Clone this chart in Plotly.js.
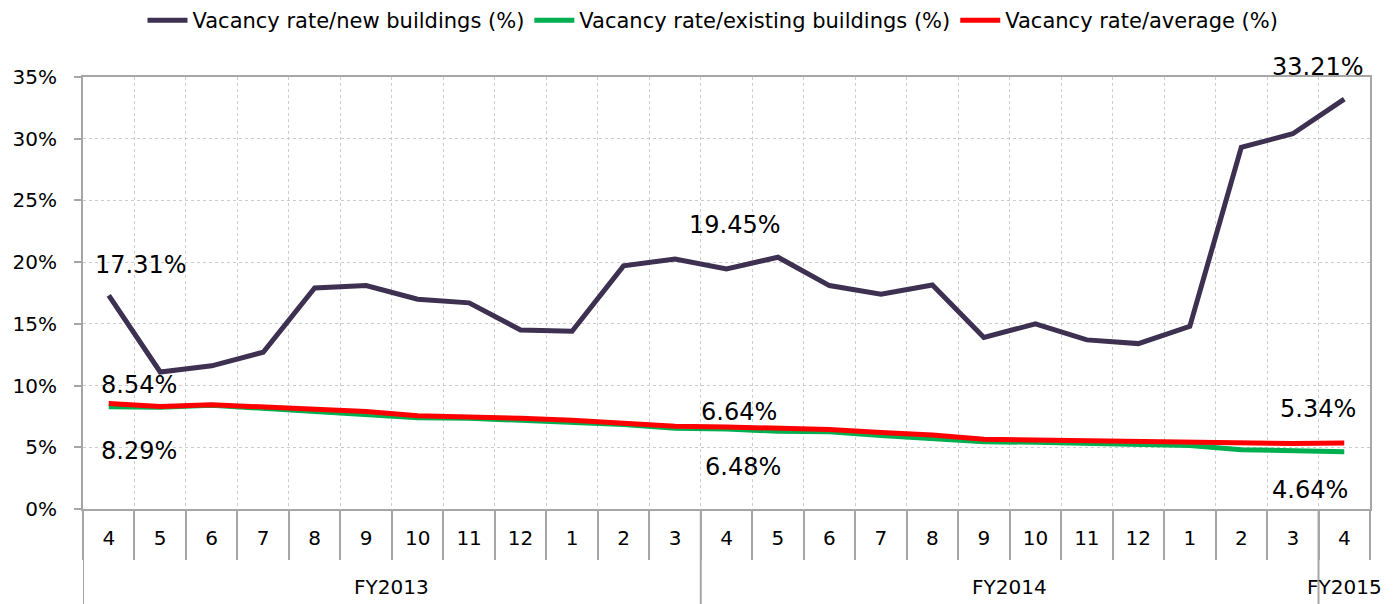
<!DOCTYPE html>
<html><head><meta charset="utf-8">
<script src="https://cdn.plot.ly/plotly-3.0.1.min.js"></script>
<style>html,body{margin:0;padding:0;background:#fff}#c{width:1398px;height:604px}</style>
</head><body><div id="c"></div>
<script>
const fiscalYears = ["FY2013","FY2013","FY2013","FY2013","FY2013","FY2013","FY2013","FY2013","FY2013","FY2013","FY2013","FY2013",
  "FY2014","FY2014","FY2014","FY2014","FY2014","FY2014","FY2014","FY2014","FY2014","FY2014","FY2014","FY2014","FY2015"];
const months = ["4","5","6","7","8","9","10","11","12","1","2","3","4","5","6","7","8","9","10","11","12","1","2","3","4"];
const newBuildings = [17.31,11.1,11.6,12.7,17.9,18.1,17.0,16.7,14.5,14.4,19.7,20.25,19.45,20.4,18.1,17.4,18.15,13.9,15.0,13.7,13.4,14.8,29.3,30.4,33.21];
const existingBuildings = [8.29,8.25,8.4,8.15,7.95,7.7,7.4,7.35,7.2,7.05,6.85,6.55,6.48,6.3,6.25,5.95,5.75,5.45,5.4,5.35,5.25,5.15,4.8,4.75,4.64];
const average = [8.54,8.3,8.45,8.3,8.15,7.9,7.55,7.5,7.35,7.2,7.0,6.7,6.64,6.5,6.45,6.2,6.0,5.65,5.6,5.55,5.45,5.35,5.3,5.3,5.34];
const seriesNames = ["Vacancy rate/new buildings (%)","Vacancy rate/existing buildings (%)","Vacancy rate/average (%)"];
const yTicks = [0,5,10,15,20,25,30,35];

const FONT = "Verdana, 'DejaVu Sans', sans-serif";
const GRID = "#cccccc", AXIS = "#a6a6a6";
const idx = months.map((m,i)=>i);
const traces = [
  {x:idx, y:newBuildings, name:seriesNames[0], mode:"lines", line:{color:"#3d3050", width:5}},
  {x:idx, y:existingBuildings, name:seriesNames[1], mode:"lines", line:{color:"#00b050", width:5}},
  {x:idx, y:average, name:seriesNames[2], mode:"lines", line:{color:"#ff0000", width:5}}
];
const last = months.length - 1;
function lab(i, series, xs, ys) {
  return {x:i, y:series[i], xref:"x", yref:"y", text:series[i].toFixed(2)+"%", showarrow:false,
    xshift:xs, yshift:ys, font:{family:FONT, size:24, color:"#000"}};
}
const annotations = [
  lab(0, newBuildings, 32, 30),
  lab(0, average, 30, 19),
  lab(0, existingBuildings, 30, -44),
  lab(12, newBuildings, 8, 44),
  lab(12, average, 12, 15),
  lab(12, existingBuildings, 16, -38),
  lab(last, newBuildings, -26, 32),
  lab(last, average, -26, 34),
  lab(last, existingBuildings, -34, -38)
];
// fiscal-year groups derived from the data
const groups = [];
fiscalYears.forEach((g,i)=>{
  if (!groups.length || groups[groups.length-1].name !== g) groups.push({name:g, start:i, end:i});
  else groups[groups.length-1].end = i;
});
const shapes = [];
groups.forEach(g=>{
  annotations.push({x:(g.start+g.end)/2, y:0, xref:"x", yref:"paper", yshift:-92, text:g.name, showarrow:false,
    font:{family:FONT, size:20, color:"#000"}});
  shapes.push({type:"line", xref:"x", yref:"paper", x0:g.start-0.5, x1:g.start-0.5, y0:0, y1:-0.23,
    line:{color:AXIS, width:2}, layer:"above"});
});
const layout = {
  width:1398, height:604,
  margin:{l:83, r:28, t:77, b:95},
  paper_bgcolor:"#fff", plot_bgcolor:"#fff",
  font:{family:FONT, size:20, color:"#000"},
  showlegend:true,
  legend:{orientation:"h", x:0.51, xanchor:"center", xref:"container", y:1, yref:"container", yanchor:"top",
    font:{family:FONT, size:21, color:"#000"}, traceorder:"normal", itemwidth:40},
  xaxis:{range:[-0.5, months.length-0.5], tickmode:"array", tickvals:idx, ticktext:months, ticks:"",
    showline:true, linecolor:AXIS, linewidth:2, mirror:true, showgrid:false, zeroline:false,
    ticklabelstandoff:10,
    minor:{tick0:-0.5, dtick:1, ticks:"outside", ticklen:49, tickcolor:AXIS, tickwidth:2,
      showgrid:true, gridcolor:GRID, griddash:"dot", gridwidth:1},
    tickfont:{family:FONT, size:20, color:"#000"}},
  yaxis:{range:[0,35], tickvals:yTicks, ticktext:yTicks.map(v=>v+"%"), showline:true, linecolor:AXIS,
    linewidth:2, mirror:true, ticks:"outside", ticklen:7, tickcolor:AXIS, tickwidth:2, ticklabelstandoff:13,
    showgrid:true, gridcolor:GRID, griddash:"dot", gridwidth:1, zeroline:false,
    tickfont:{family:FONT, size:20, color:"#000"}},
  annotations:annotations,
  shapes:shapes
};
Plotly.newPlot("c", traces, layout, {displayModeBar:false, staticPlot:true});
</script></body></html>
